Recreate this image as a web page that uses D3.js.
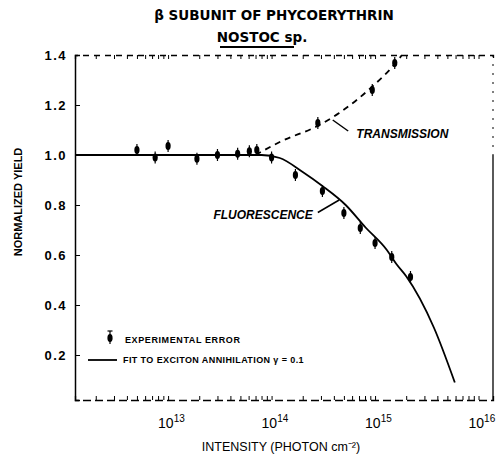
<!DOCTYPE html>
<html>
<head>
<meta charset="utf-8">
<script src="https://cdn.jsdelivr.net/npm/d3@7"></script>
<style>
  body { margin: 0; background: #fff; }
  svg { font-family: "Liberation Sans", Arial, sans-serif; }
  .axis path, .axis line { stroke: #000; }
</style>
</head>
<body>
<div id="chart"></div>
<script>
var width = 502;
var height = 460;

// measured points (intensity, normalized yield)
var fluorX = [5.0e12, 7.5e12, 1.0e13, 1.9e13, 3.0e13, 4.7e13, 6.1e13, 7.2e13, 1.0e14,
              1.7e14, 3.1e14, 5.0e14, 7.2e14, 1.0e15, 1.45e15, 2.2e15];
var fluorY = [1.02, 0.99, 1.036, 0.985, 1.0, 1.005, 1.015, 1.02, 0.99,
              0.92, 0.856, 0.768, 0.708, 0.648, 0.592, 0.512];
var transX = [2.8e14, 9.4e14, 1.55e15];
var transY = [1.128, 1.26, 1.368];

// fit curves
var fitFluorX = [1.26e12, 1e13, 8e13, 1.2e14, 2e14, 3.1e14, 5.2e14, 8.1e14, 1.3e15, 1.6e15, 2e15, 3.7e15, 5.9e15];
var fitFluorY = [1.0, 1.0, 1.0, 0.988, 0.932, 0.876, 0.80, 0.71, 0.62, 0.565, 0.515, 0.31, 0.09];
var fitTransX = [7e13, 1.2e14, 2.9e14, 4.5e14, 9.3e14, 1.58e15, 1.82e15];
var fitTransY = [1.0, 1.052, 1.12, 1.168, 1.272, 1.368, 1.40];

var yTicks = [0.2, 0.4, 0.6, 0.8, 1.0, 1.2, 1.4];
var xDecades = [13, 14, 15, 16];

var margin = {left: 75, right: 9, top: 55, bottom: 60};

var x = d3.scaleLog().domain([1.26e12, 1.38e16]).range([margin.left, width - margin.right]);
var y = d3.scaleLinear().domain([0.02, 1.4]).range([height - margin.bottom, margin.top]);

var svg = d3.select("#chart").append("svg")
    .attr("width", width)
    .attr("height", height);

// title
svg.append("text")
    .attr("x", 274).attr("y", 20)
    .attr("text-anchor", "middle")
    .style("font-family", "'DejaVu Sans', sans-serif")
    .style("font-size", "13.5px").style("font-weight", "bold")
    .text("β SUBUNIT OF PHYCOERYTHRIN");
svg.append("text")
    .attr("x", 262).attr("y", 42)
    .attr("text-anchor", "middle")
    .style("font-family", "'DejaVu Sans', sans-serif")
    .style("font-size", "13.5px").style("font-weight", "bold")
    .text("NOSTOC sp.");
svg.append("line")
    .attr("x1", 220).attr("x2", 294).attr("y1", 47).attr("y2", 47)
    .attr("stroke", "#000").attr("stroke-width", 2);

// minor log ticks
var minor = [];
for (var e = 12; e <= 16; e++) {
    for (var m = 1; m < 10; m++) {
        var v = m * Math.pow(10, e);
        if (v >= x.domain()[0] && v <= x.domain()[1]) minor.push(v);
    }
}

// bottom frame
var xAxisB = d3.axisBottom(x).tickValues(minor).tickSize(-4).tickFormat("");
var gB = svg.append("g").attr("class", "axis")
    .attr("transform", "translate(0," + y.range()[0] + ")")
    .call(xAxisB);
gB.select(".domain").attr("stroke-dasharray", "8,4").attr("stroke-width", 1.3);

// top frame
var xAxisT = d3.axisTop(x).tickValues(minor).tickSize(-4).tickFormat("");
var gT = svg.append("g").attr("class", "axis")
    .attr("transform", "translate(0," + y.range()[1] + ")")
    .call(xAxisT);
gT.select(".domain").attr("stroke-dasharray", "6,5").attr("stroke-width", 1.3);

// right frame
svg.append("line")
    .attr("x1", x.range()[1]).attr("x2", x.range()[1])
    .attr("y1", y(1.4)).attr("y2", y(1.0))
    .attr("stroke", "#000").attr("stroke-dasharray", "2,7");
svg.append("line")
    .attr("x1", x.range()[1]).attr("x2", x.range()[1])
    .attr("y1", y(1.0)).attr("y2", y.range()[0])
    .attr("stroke", "#000").attr("stroke-width", 1.3);

// left axis
var yAxis = d3.axisLeft(y).tickValues(yTicks).tickSize(-5).tickPadding(8)
    .tickFormat(d3.format(".1f"));
var gL = svg.append("g").attr("class", "axis")
    .attr("transform", "translate(" + x.range()[0] + ",0)")
    .call(yAxis);
gL.select(".domain").attr("stroke-width", 1.5);
gL.selectAll("text")
    .style("font-size", "13px").style("font-weight", "bold")
    .style("letter-spacing", "1.5px").attr("fill", "#000");

// x decade labels
var xl = svg.append("g");
xDecades.forEach(function(p) {
    var t = xl.append("text")
        .attr("x", x(Math.pow(10, p)) - 10)
        .attr("y", y.range()[0] + 28)
        .style("font-size", "14px");
    t.append("tspan").text("10");
    t.append("tspan").attr("dy", -6).style("font-size", "10px").text(p);
});

// axis titles
svg.append("text")
    .attr("x", 281).attr("y", 451)
    .attr("text-anchor", "middle")
    .style("font-size", "12.5px")
    .text("INTENSITY (PHOTON cm⁻²)");
svg.append("text")
    .attr("transform", "translate(22,202) rotate(-90)")
    .attr("text-anchor", "middle")
    .style("font-size", "11px").style("font-weight", "bold")
    .text("NORMALIZED YIELD");

// fit lines
var line = d3.line()
    .x(function(d) { return x(d[0]); })
    .y(function(d) { return y(d[1]); })
    .curve(d3.curveMonotoneX);

svg.append("path")
    .datum(d3.zip(fitFluorX, fitFluorY))
    .attr("d", line)
    .attr("fill", "none").attr("stroke", "#000").attr("stroke-width", 1.8);

svg.append("path")
    .datum(d3.zip(fitTransX, fitTransY))
    .attr("d", line)
    .attr("fill", "none").attr("stroke", "#000").attr("stroke-width", 1.8)
    .attr("stroke-dasharray", "6,5");

// error bar points
function drawPoints(xs, ys) {
    var pts = svg.append("g").selectAll("g")
        .data(d3.zip(xs, ys))
        .enter().append("g")
        .attr("transform", function(d) { return "translate(" + x(d[0]) + "," + y(d[1]) + ")"; });
    pts.append("line")
        .attr("y1", -6).attr("y2", 6)
        .attr("stroke", "#000").attr("stroke-width", 1.2);
    pts.append("ellipse")
        .attr("rx", 2.6).attr("ry", 4)
        .attr("fill", "#000");
}
drawPoints(fluorX, fluorY);
drawPoints(transX, transY);

// annotations
svg.append("line")
    .attr("x1", x(3.9e14)).attr("y1", y(1.14))
    .attr("x2", x(5.5e14)).attr("y2", y(1.096))
    .attr("stroke", "#000").attr("stroke-width", 1.5);
svg.append("text")
    .attr("x", x(6.6e14)).attr("y", y(1.068))
    .style("font-size", "12px").style("font-weight", "bold").style("font-style", "italic")
    .text("TRANSMISSION");

svg.append("line")
    .attr("x1", x(2.8e14)).attr("y1", y(0.77))
    .attr("x2", x(4.5e14)).attr("y2", y(0.82))
    .attr("stroke", "#000").attr("stroke-width", 1.5);
svg.append("text")
    .attr("x", x(2.5e14)).attr("y", y(0.745))
    .attr("text-anchor", "end")
    .style("font-size", "12px").style("font-weight", "bold").style("font-style", "italic")
    .text("FLUORESCENCE");

// legend
var lg = svg.append("g");
var lp = lg.append("g").attr("transform", "translate(110,338)");
lp.append("line").attr("y1", -7).attr("y2", 6).attr("stroke", "#000").attr("stroke-width", 1.2);
lp.append("line").attr("x1", -2.5).attr("x2", 2.5).attr("y1", -7).attr("y2", -7).attr("stroke", "#000").attr("stroke-width", 1.2);
lp.append("ellipse").attr("rx", 2.6).attr("ry", 4).attr("fill", "#000");
lg.append("text")
    .attr("x", 125).attr("y", 343)
    .style("font-size", "9px").style("font-weight", "bold").style("letter-spacing", "0.6px")
    .text("EXPERIMENTAL ERROR");
lg.append("line")
    .attr("x1", 88).attr("x2", 117).attr("y1", 360).attr("y2", 360)
    .attr("stroke", "#000").attr("stroke-width", 1.8);
lg.append("text")
    .attr("x", 123).attr("y", 363)
    .style("font-size", "9px").style("font-weight", "bold").style("letter-spacing", "0.4px")
    .text("FIT TO EXCITON ANNIHILATION  γ = 0.1");
</script>
</body>
</html>
